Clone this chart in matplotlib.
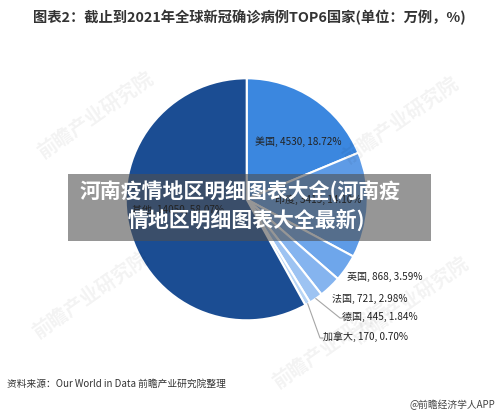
import matplotlib.pyplot as plt
import numpy as np

plt.rcParams['font.family'] = ['Noto Sans CJK SC', 'DejaVu Sans']

countries = ['美国', '印度', '英国', '法国', '德国', '加拿大', '其他']
cases = [4530, 3415, 868, 721, 445, 170, 14050]
shares = [18.72, 14.10, 3.59, 2.98, 1.84, 0.70, 58.07]
colors = ['#3B87DF', '#5E9BE6', '#6EA6EB', '#85B4EF', '#9DC3F2', '#B8D5F5', '#1B4D93']

W, H = 500, 415
fig = plt.figure(figsize=(5, 4.15), dpi=100)


def fx(x):
    return x / W


def fy(y):
    return 1 - y / H


# pie axes: centre ~(247, 199) px, radius ~121 px
cx, cy, r = 246.7, 199.3, 121
ax = fig.add_axes([fx(cx - r), fy(cy + r), 2 * r / W, 2 * r / H])
wedges, _ = ax.pie(cases, colors=colors, startangle=90, counterclock=False,
                   radius=1, wedgeprops=dict(edgecolor='white', linewidth=1.5))
ax.set_xlim(-1, 1)
ax.set_ylim(-1, 1)
ax.axis('off')

lbl = lambda i: '%s, %d, %.2f%%' % (countries[i], cases[i], shares[i])
fs = 7.2

# labels inside / next to the wedges (pixel positions)
fig.text(fx(255), fy(142), lbl(0), fontsize=fs, va='center', color='#222222')
fig.text(fx(275), fy(200), lbl(1), fontsize=fs, va='center', color='#222222')
fig.text(fx(132), fy(210), lbl(6), fontsize=fs, va='center', color='#222222')
fig.text(fx(347), fy(277), lbl(2), fontsize=fs, va='center', color='#222222')
fig.text(fx(332), fy(299), lbl(3), fontsize=fs, va='center', color='#222222')
fig.text(fx(342), fy(317), lbl(4), fontsize=fs, va='center', color='#222222')
fig.text(fx(323), fy(337), lbl(5), fontsize=fs, va='center', color='#222222')

# leader lines for the two smallest slices
for i, (bx, by, tx) in [(4, (340, 318, 342)), (5, (320, 338, 323))]:
    w = wedges[i]
    mid = np.deg2rad((w.theta1 + w.theta2) / 2)
    px = cx + r * np.cos(mid)
    py = cy - r * np.sin(mid)
    fig.add_artist(plt.Line2D([fx(px), fx(bx), fx(tx)], [fy(py), fy(by), fy(by)],
                              color='#a6a6a6', lw=0.8))

# title
fig.text(fx(33), fy(17), '图表2：截止到2021年全球新冠确诊病例TOP6国家(单位：万例，%)',
         fontsize=10.3, fontweight='bold', va='center', color='#333333')

# source and credit
fig.text(fx(7), fy(384), '资料来源：Our World in Data 前瞻产业研究院整理',
         fontsize=7, va='center', color='#333333')
fig.text(fx(495), fy(405), '@前瞻经济学人APP', fontsize=7, va='center', ha='right',
         color='#444444')

# faint watermarks
for x, y in [(95, 115), (400, 120), (90, 295), (410, 300), (330, 345)]:
    fig.text(fx(x), fy(y), '前瞻产业研究院', fontsize=14, rotation=35, color='#000000',
             alpha=0.05, ha='center', va='center', fontweight='bold')

# grey banner
fig.add_artist(plt.Rectangle((fx(68), fy(241)), fx(431) - fx(68), fy(174) - fy(241),
                             transform=fig.transFigure, color='#505050', alpha=0.6,
                             lw=0))
fig.text(fx(240), fy(192), '河南疫情地区明细图表大全(河南疫', fontsize=15,
         fontweight='bold', color='white', ha='center', va='center')
fig.text(fx(246), fy(220), '情地区明细图表大全最新)', fontsize=15,
         fontweight='bold', color='white', ha='center', va='center')

fig.savefig('out.png', dpi=100)
